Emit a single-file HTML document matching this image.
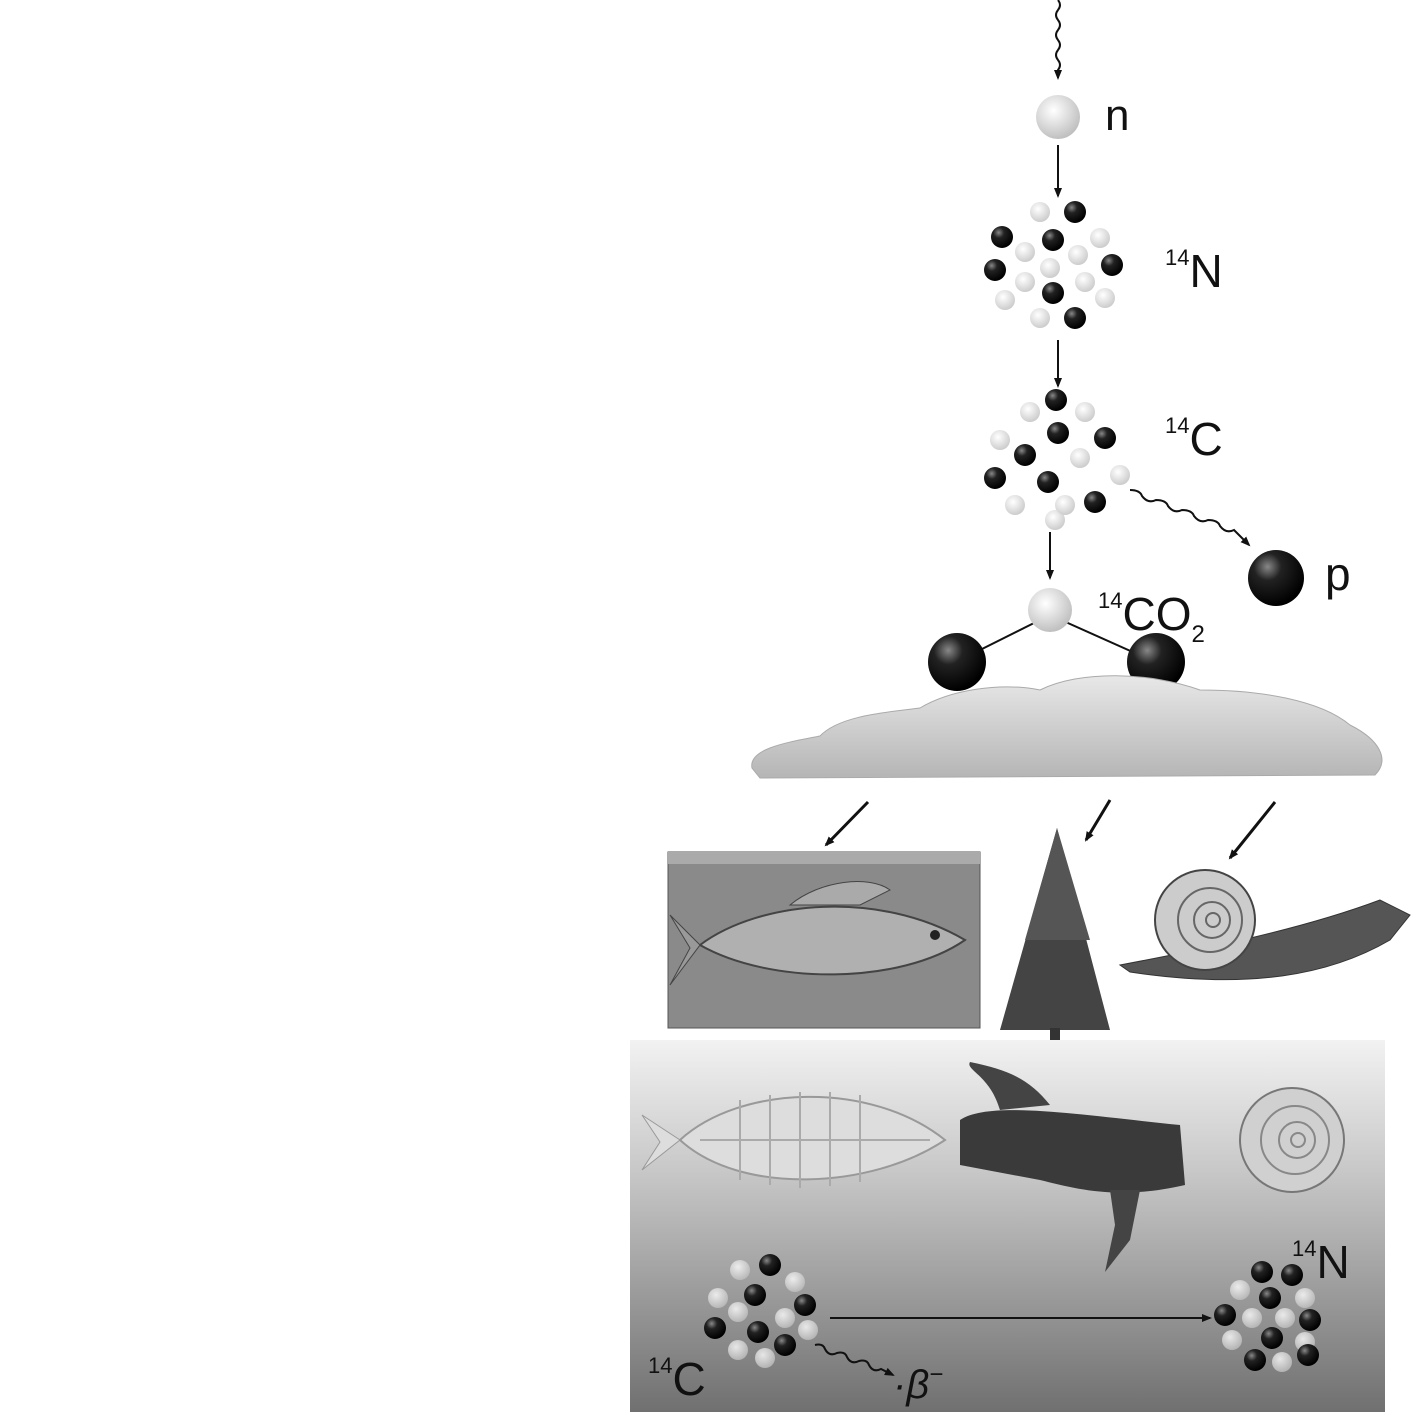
<!DOCTYPE html>
<html><head><meta charset="utf-8"><style>
html,body{margin:0;padding:0;background:#fff;}
svg{display:block;}
text{font-family:"Liberation Sans",sans-serif;fill:#111;}
</style></head><body>
<svg width="1417" height="1412" viewBox="0 0 1417 1412" xmlns="http://www.w3.org/2000/svg">
<defs>
<radialGradient id="blk" cx="0.35" cy="0.3" r="0.7"><stop offset="0" stop-color="#888"/><stop offset="0.35" stop-color="#222"/><stop offset="1" stop-color="#000"/></radialGradient>
<radialGradient id="wht" cx="0.4" cy="0.35" r="0.7"><stop offset="0" stop-color="#fff"/><stop offset="1" stop-color="#bbb"/></radialGradient>
<linearGradient id="bot" x1="0" y1="0" x2="0" y2="1"><stop offset="0" stop-color="#f2f2f2"/><stop offset="0.35" stop-color="#c8c8c8"/><stop offset="1" stop-color="#707070"/></linearGradient>
<linearGradient id="cloud" x1="0" y1="0" x2="0" y2="1"><stop offset="0" stop-color="#e8e8e8"/><stop offset="1" stop-color="#b5b5b5"/></linearGradient>
<marker id="ah" markerWidth="10" markerHeight="10" refX="8" refY="5" orient="auto" markerUnits="userSpaceOnUse" viewBox="0 0 10 10"><path d="M0,1 L10,5 L0,9 Z" fill="#111"/></marker>
<g id="b"><circle r="11" fill="url(#blk)"/></g>
<g id="w"><circle r="10" fill="url(#wht)" opacity="0.8"/></g>
</defs>

<!-- top wavy line -->
<path d="M1058,0 q4,5 0,10 q-4,5 0,10 q4,5 0,10 q-4,5 0,10 q4,5 0,10 q-4,5 0,10 q4,5 0,10 l0,8" fill="none" stroke="#111" stroke-width="2" marker-end="url(#ah)"/>
<circle cx="1058" cy="117" r="22" fill="url(#wht)"/>
<text x="1105" y="130" font-size="44">n</text>
<line x1="1058" y1="145" x2="1058" y2="196" stroke="#111" stroke-width="2" marker-end="url(#ah)"/>

<!-- 14N -->
<g>
<use href="#b" x="1075" y="212"/><use href="#w" x="1040" y="212"/>
<use href="#b" x="1002" y="237"/><use href="#b" x="1053" y="240"/><use href="#w" x="1100" y="238"/>
<use href="#w" x="1025" y="252"/><use href="#w" x="1078" y="255"/>
<use href="#b" x="995" y="270"/><use href="#w" x="1050" y="268"/><use href="#b" x="1112" y="265"/>
<use href="#w" x="1025" y="282"/><use href="#b" x="1053" y="293"/><use href="#w" x="1085" y="282"/>
<use href="#w" x="1005" y="300"/><use href="#w" x="1105" y="298"/>
<use href="#b" x="1075" y="318"/><use href="#w" x="1040" y="318"/>
</g>
<text x="1165" y="287" font-size="46"><tspan font-size="22" dy="-22">14</tspan><tspan dy="22">N</tspan></text>
<line x1="1058" y1="340" x2="1058" y2="386" stroke="#111" stroke-width="2" marker-end="url(#ah)"/>

<!-- 14C -->
<g>
<use href="#b" x="1056" y="400"/><use href="#w" x="1030" y="412"/><use href="#w" x="1085" y="412"/>
<use href="#b" x="1058" y="433"/><use href="#b" x="1105" y="438"/><use href="#w" x="1000" y="440"/>
<use href="#b" x="1025" y="455"/><use href="#w" x="1080" y="458"/>
<use href="#b" x="995" y="478"/><use href="#b" x="1048" y="482"/><use href="#w" x="1120" y="475"/>
<use href="#w" x="1015" y="505"/><use href="#b" x="1095" y="502"/><use href="#w" x="1065" y="505"/>
<use href="#w" x="1055" y="520"/>
</g>
<text x="1165" y="455" font-size="46"><tspan font-size="22" dy="-22">14</tspan><tspan dy="22">C</tspan></text>
<path d="M1130,490 q10,0 12,6 q6,8 14,4 q10,0 12,6 q6,8 14,4 q10,0 12,6 q6,8 14,4 q10,0 12,6 q6,8 14,4 l15,15" fill="none" stroke="#111" stroke-width="2" marker-end="url(#ah)"/>
<circle cx="1276" cy="578" r="28" fill="url(#blk)"/>
<text x="1325" y="590" font-size="46">p</text>
<line x1="1050" y1="532" x2="1050" y2="578" stroke="#111" stroke-width="2" marker-end="url(#ah)"/>

<!-- CO2 -->
<line x1="1050" y1="615" x2="960" y2="660" stroke="#111" stroke-width="2"/>
<line x1="1050" y1="615" x2="1155" y2="662" stroke="#111" stroke-width="2"/>
<circle cx="1050" cy="610" r="22" fill="url(#wht)"/>
<circle cx="957" cy="662" r="29" fill="url(#blk)"/>
<circle cx="1156" cy="662" r="29" fill="url(#blk)"/>
<text x="1098" y="630" font-size="46"><tspan font-size="22" dy="-22">14</tspan><tspan dy="22">CO</tspan><tspan font-size="24" dy="12">2</tspan></text>

<!-- cloud -->
<path d="M752,768 C748,748 790,742 820,736 C840,715 890,712 920,708 C950,690 1000,682 1040,690 C1080,670 1150,672 1200,690 C1260,690 1320,700 1350,725 C1380,740 1390,760 1375,775 L760,778 Z" fill="url(#cloud)" stroke="#aaa"/>

<!-- arrows to organisms -->
<line x1="868" y1="802" x2="826" y2="845" stroke="#111" stroke-width="3" marker-end="url(#ah)"/>
<line x1="1110" y1="800" x2="1086" y2="840" stroke="#111" stroke-width="3" marker-end="url(#ah)"/>
<line x1="1275" y1="802" x2="1230" y2="858" stroke="#111" stroke-width="3" marker-end="url(#ah)"/>

<!-- fish box -->
<rect x="668" y="852" width="312" height="176" fill="#8a8a8a" stroke="#555"/>
<rect x="668" y="852" width="312" height="12" fill="#aaa"/>
<path d="M700,945 C760,900 880,890 965,940 C900,985 770,985 700,945 Z" fill="#b0b0b0" stroke="#444" stroke-width="2"/>
<path d="M700,945 L670,915 L690,948 L670,985 Z" fill="#999" stroke="#444"/>
<path d="M790,905 C820,880 870,875 890,890 L860,905 Z" fill="#aaa" stroke="#444"/>
<circle cx="935" cy="935" r="5" fill="#222"/>

<!-- tree -->
<path d="M1057,828 L1000,1030 L1110,1030 Z" fill="#444"/>
<path d="M1057,828 L1025,940 L1090,940 Z" fill="#555"/>
<rect x="1050" y="1028" width="10" height="14" fill="#333"/>

<!-- snail -->
<path d="M1120,965 C1200,950 1300,930 1380,900 L1410,915 L1390,940 C1330,975 1250,990 1130,972 Z" fill="#555" stroke="#333"/>
<circle cx="1205" cy="920" r="50" fill="#ccc" stroke="#444" stroke-width="2"/>
<circle cx="1210" cy="920" r="32" fill="none" stroke="#666" stroke-width="2"/>
<circle cx="1212" cy="920" r="18" fill="none" stroke="#666" stroke-width="2"/>
<circle cx="1213" cy="920" r="7" fill="none" stroke="#666" stroke-width="2"/>

<!-- bottom gradient box -->
<rect x="630" y="1040" width="755" height="372" fill="url(#bot)"/>
<!-- fossil fish -->
<path d="M680,1140 C740,1085 870,1080 945,1140 C870,1190 740,1195 680,1140 Z" fill="#ddd" stroke="#999" stroke-width="2"/>
<path d="M680,1140 L642,1115 L660,1142 L642,1170 Z" fill="#ddd" stroke="#999"/>
<g stroke="#aaa" stroke-width="2"><line x1="740" y1="1100" x2="740" y2="1180"/><line x1="770" y1="1095" x2="770" y2="1185"/><line x1="800" y1="1092" x2="800" y2="1188"/><line x1="830" y1="1092" x2="830" y2="1186"/><line x1="860" y1="1095" x2="860" y2="1182"/><line x1="700" y1="1140" x2="930" y2="1140"/></g>
<!-- log -->
<path d="M960,1120 C990,1100 1080,1115 1180,1125 L1185,1185 C1120,1200 1080,1190 1040,1180 L960,1165 Z" fill="#3a3a3a"/>
<path d="M1000,1110 C990,1075 965,1070 970,1062 C1010,1070 1030,1080 1050,1105 Z" fill="#444"/>
<path d="M1110,1190 L1140,1190 L1130,1240 L1105,1272 L1115,1225 Z" fill="#444"/>
<!-- fossil shell -->
<circle cx="1292" cy="1140" r="52" fill="#d0d0d0" stroke="#777" stroke-width="2"/>
<circle cx="1295" cy="1140" r="34" fill="none" stroke="#888" stroke-width="2"/>
<circle cx="1297" cy="1140" r="18" fill="none" stroke="#888" stroke-width="2"/>
<circle cx="1298" cy="1140" r="7" fill="none" stroke="#888" stroke-width="2"/>

<!-- bottom 14C -->
<g>
<use href="#b" x="770" y="1265"/><use href="#w" x="740" y="1270"/><use href="#w" x="795" y="1282"/>
<use href="#w" x="718" y="1298"/><use href="#b" x="755" y="1295"/><use href="#b" x="805" y="1305"/>
<use href="#w" x="738" y="1312"/><use href="#w" x="785" y="1318"/>
<use href="#b" x="715" y="1328"/><use href="#b" x="758" y="1332"/><use href="#w" x="808" y="1330"/>
<use href="#w" x="738" y="1350"/><use href="#b" x="785" y="1345"/><use href="#w" x="765" y="1358"/>
</g>
<text x="648" y="1395" font-size="46"><tspan font-size="22" dy="-22">14</tspan><tspan dy="22">C</tspan></text>
<line x1="830" y1="1318" x2="1210" y2="1318" stroke="#111" stroke-width="2" marker-end="url(#ah)"/>
<path d="M815,1345 q8,-2 10,4 q4,8 12,4 q8,-2 10,4 q4,8 12,4 q8,-2 10,4 q4,8 12,4 l12,6" fill="none" stroke="#111" stroke-width="2" marker-end="url(#ah)"/>
<text x="893" y="1398" font-size="40" font-style="italic" font-family="Liberation Serif">·β<tspan font-size="24" dy="-16">−</tspan></text>

<!-- bottom 14N -->
<g>
<use href="#b" x="1262" y="1272"/><use href="#b" x="1292" y="1275"/><use href="#w" x="1240" y="1290"/>
<use href="#b" x="1270" y="1298"/><use href="#w" x="1305" y="1298"/><use href="#b" x="1225" y="1315"/>
<use href="#w" x="1252" y="1318"/><use href="#w" x="1285" y="1318"/><use href="#b" x="1310" y="1320"/>
<use href="#w" x="1232" y="1340"/><use href="#b" x="1272" y="1338"/><use href="#w" x="1305" y="1342"/>
<use href="#b" x="1255" y="1360"/><use href="#w" x="1282" y="1362"/><use href="#b" x="1308" y="1355"/>
</g>
<text x="1292" y="1278" font-size="46"><tspan font-size="22" dy="-22">14</tspan><tspan dy="22">N</tspan></text>
</svg>
</body></html>
